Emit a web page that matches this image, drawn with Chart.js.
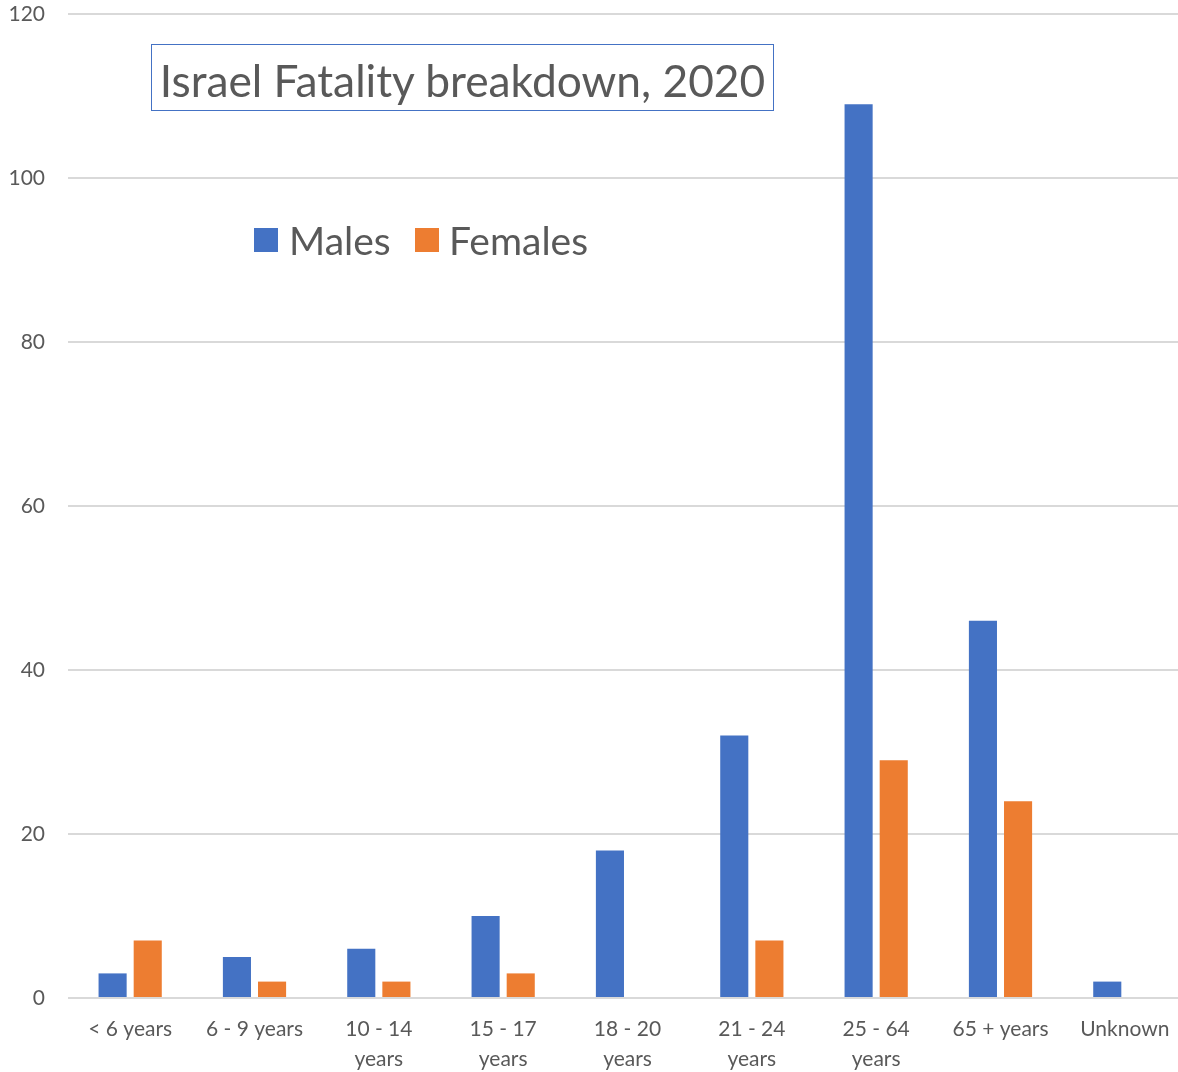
<!DOCTYPE html>
<html>
<head>
<meta charset="utf-8">
<script src="https://cdn.jsdelivr.net/npm/chart.js@4"></script>
<style>
  html, body { margin: 0; padding: 0; background: #fff; overflow: hidden; }
  #wrap { position: relative; width: 1178px; height: 1072px; overflow: hidden; }
  canvas { display: block; }
  #title {
    position: absolute; left: 151px; top: 44px; width: 621px; height: 65px;
    border: 1.5px solid #4472C4; box-sizing: content-box;
    font-family: Lato, sans-serif; font-size: 44.3px; color: #595959;
    line-height: 70px; text-align: center; white-space: nowrap;
  }
  .lg {
    position: absolute; font-family: Lato, sans-serif; font-size: 39px;
    color: #595959; white-space: nowrap; line-height: 48px;
  }
  .sw { position: absolute; width: 24px; height: 24px; }
</style>
</head>
<body>
<div id="wrap">
  <canvas id="myChart" width="1187" height="1072"></canvas>
  <div id="title">Israel Fatality breakdown, 2020</div>
</div>
<script>
// data
var categories = [
    '< 6 years', '6 - 9 years', ['10 - 14', 'years'], ['15 - 17', 'years'],
    ['18 - 20', 'years'], ['21 - 24', 'years'], ['25 - 64', 'years'],
    '65 + years', 'Unknown'
];
var males = [3, 5, 6, 10, 18, 32, 109, 46, 2];
var females = [7, 2, 2, 3, 0, 7, 29, 24, 0];
var yTicks = [0, 20, 40, 60, 80, 100, 120];

var blue = '#4472C4';
var orange = '#ED7D31';

const data = {
    labels: categories,
    datasets: [
        { label: 'Males', backgroundColor: blue, data: males },
        { label: 'Females', backgroundColor: orange, data: females }
    ]
};

// legend as html, sitting inside the plot like the original
var wrap = document.getElementById('wrap');
var legendPos = [{ sw: 254, txt: 289 }, { sw: 415, txt: 449 }];
data.datasets.forEach(function (ds, i) {
    var sw = document.createElement('div');
    sw.className = 'sw';
    sw.style.left = legendPos[i].sw + 'px';
    sw.style.top = '228px';
    sw.style.background = ds.backgroundColor;
    wrap.appendChild(sw);
    var t = document.createElement('div');
    t.className = 'lg';
    t.style.left = legendPos[i].txt + 'px';
    t.style.top = '216px';
    t.textContent = ds.label;
    wrap.appendChild(t);
});

const config = {
    type: 'bar',
    data: data,
    options: {
        responsive: false,
        animation: false,
        categoryPercentage: 0.565,
        barPercentage: 0.8,
        layout: { padding: { top: 14, right: 0, left: 0, bottom: 0 } },
        plugins: {
            legend: { display: false },
            title: { display: false },
            tooltip: { enabled: false }
        },
        scales: {
            x: {
                grid: { display: false, drawTicks: false },
                border: { display: false },
                ticks: {
                    color: '#595959',
                    font: { family: 'Lato', size: 21, lineHeight: 1.4 },
                    padding: 17,
                    maxRotation: 0,
                    autoSkip: false
                },
                afterFit: function (scale) {
                    scale.height = 74;
                    scale.paddingLeft = 0;
                    scale.paddingRight = 0;
                }
            },
            y: {
                min: 0,
                max: 120,
                afterBuildTicks: function (scale) {
                    scale.ticks = yTicks.map(function (v) { return { value: v }; });
                },
                grid: { color: '#d9d9d9', lineWidth: 2, drawTicks: false },
                border: { display: false },
                ticks: {
                    color: '#595959',
                    font: { family: 'Lato', size: 21 },
                    padding: 23
                },
                afterFit: function (scale) {
                    scale.width = 68;
                    scale.paddingTop = 0;
                    scale.paddingBottom = 0;
                }
            }
        }
    }
};

const myChart = new Chart(document.getElementById('myChart'), config);
</script>
</body>
</html>
